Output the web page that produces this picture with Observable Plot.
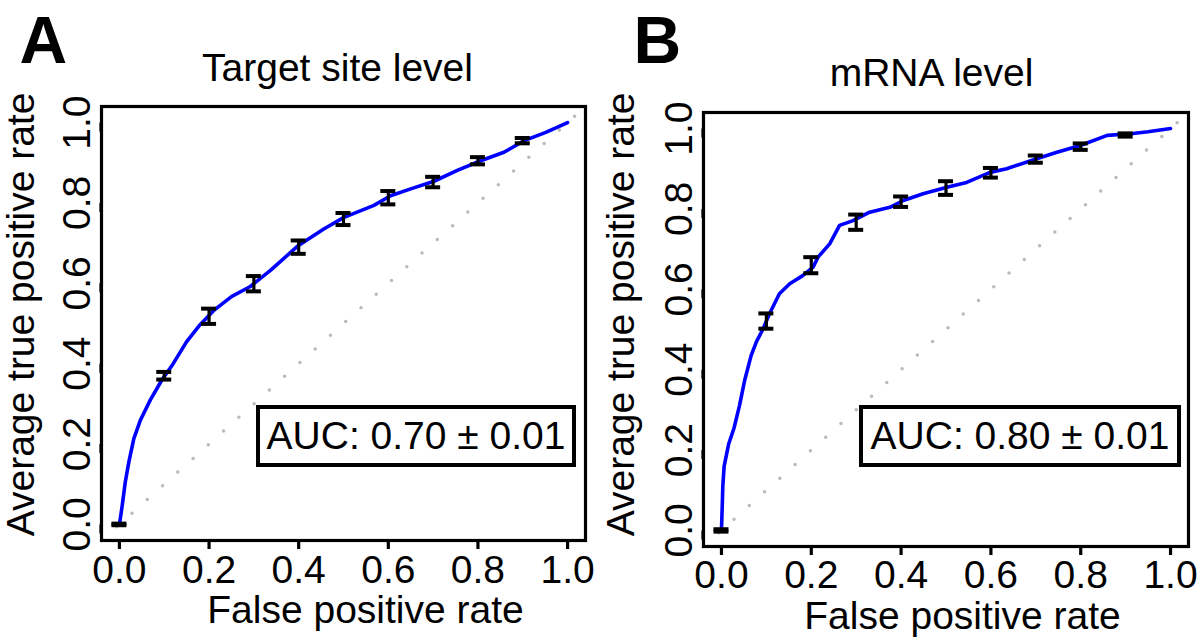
<!DOCTYPE html>
<html><head><meta charset="utf-8">
<script src="https://cdn.jsdelivr.net/npm/d3@7"></script>
<script src="https://cdn.jsdelivr.net/npm/@observablehq/plot@0.6"></script>
<style>
body{margin:0;background:#fff;}
#wrap{position:relative;width:1200px;height:642px;overflow:hidden;font-family:"Liberation Sans",Arial,Helvetica,sans-serif;background:#fff;}
.panel{position:absolute;top:0;width:600px;height:642px;}
.panel svg{overflow:visible;}
.auc{position:absolute;box-sizing:border-box;border:4px solid #000;background:#fff;font-size:39px;text-align:center;white-space:nowrap;color:#000;}
</style></head><body>
<div id="wrap">
  <div class="panel" id="pA" style="left:0px"></div>
  <div class="panel" id="pB" style="left:600px"></div>
</div>
<script>
// ---------- data ----------
const panelLetters = ["A", "B"];
const panelTitles = ["Target site level", "mRNA level"];
const xLabel = "False positive rate";
const yLabel = "Average true positive rate";
const aucLabels = ["AUC: 0.70 \u00b1 0.01", "AUC: 0.80 \u00b1 0.01"];
const tickValues = [0, 0.2, 0.4, 0.6, 0.8, 1.0];
const axisDomain = [-0.04, 1.04];

// Panel A: averaged ROC curve (target site level)
const curveA_fpr = [0, 0.006, 0.013, 0.021, 0.032, 0.047, 0.069, 0.095, 0.12, 0.15, 0.18, 0.21, 0.25, 0.292, 0.337, 0.397, 0.456, 0.501, 0.568, 0.605, 0.65, 0.702, 0.754, 0.806, 0.858, 0.903, 0.95, 1.0];
const curveA_tpr = [0, 0.045, 0.105, 0.155, 0.213, 0.26, 0.31, 0.36, 0.40, 0.455, 0.497, 0.532, 0.567, 0.592, 0.632, 0.692, 0.735, 0.764, 0.794, 0.818, 0.835, 0.854, 0.881, 0.905, 0.926, 0.955, 0.975, 1.0];

// Panel B: averaged ROC curve (mRNA level)
const curveB_fpr = [0, 0.002, 0.003, 0.006, 0.016, 0.028, 0.04, 0.052, 0.066, 0.078, 0.092, 0.107, 0.129, 0.152, 0.181, 0.204, 0.215, 0.241, 0.263, 0.293, 0.33, 0.375, 0.405, 0.449, 0.502, 0.546, 0.598, 0.635, 0.702, 0.747, 0.799, 0.859, 0.911, 0.95, 1.0];
const curveB_tpr = [0, 0.07, 0.11, 0.16, 0.215, 0.255, 0.31, 0.375, 0.435, 0.47, 0.50, 0.539, 0.589, 0.614, 0.634, 0.655, 0.68, 0.713, 0.759, 0.771, 0.792, 0.804, 0.821, 0.838, 0.854, 0.866, 0.891, 0.90, 0.925, 0.941, 0.958, 0.983, 0.987, 0.992, 1.0];

// Error bars (mean +/- sd) at fixed false positive rates
const errFpr = [0, 0.1, 0.2, 0.3, 0.4, 0.5, 0.6, 0.7, 0.8, 0.9];
const errA_mean = [0, 0.370, 0.518, 0.599, 0.690, 0.760, 0.813, 0.852, 0.905, 0.955];
const errA_sd   = [0.002, 0.0095, 0.019, 0.019, 0.0166, 0.015, 0.0166, 0.013, 0.009, 0.0066];
const errB_mean = [0, 0.521, 0.660, 0.767, 0.818, 0.852, 0.890, 0.924, 0.955, 0.984];
const errB_sd   = [0.003, 0.019, 0.020, 0.019, 0.013, 0.017, 0.012, 0.009, 0.008, 0.004];

// ---------- drawing ----------
const FONT = "Liberation Sans, Arial, Helvetica, sans-serif";
const FS = 39;

function makePanel(o) {
  const m = o.margins;
  const at = (px, py) => ({frameAnchor: "top-left", dx: px - m.left, dy: py - m.top});
  const err = errFpr.map((x, i) => ({x, lo: o.mean[i] - o.sd[i], hi: o.mean[i] + o.sd[i]}));
  return Plot.plot({
    width: 600, height: 642,
    marginTop: m.top, marginRight: m.right, marginBottom: m.bottom, marginLeft: m.left,
    x: {domain: axisDomain},
    y: {domain: axisDomain},
    style: {fontFamily: FONT, color: "#000", background: "transparent", overflow: "visible"},
    marks: [
      Plot.line(axisDomain, {x: d => d, y: d => d, stroke: "#bababa", strokeWidth: 3.5, strokeDasharray: "0 20.5", strokeLinecap: "round"}),
      Plot.line({length: o.fpr.length}, {x: o.fpr, y: o.tpr, stroke: "#0000ff", strokeWidth: 3.6, strokeLinejoin: "round", strokeLinecap: "round"}),
      Plot.ruleX(err, {x: "x", y1: "lo", y2: "hi", stroke: "#000", strokeWidth: 3.2}),
      Plot.ruleY(err, {y: "lo", x1: "x", x2: "x", insetLeft: -7.5, insetRight: -7.5, stroke: "#000", strokeWidth: 4}),
      Plot.ruleY(err, {y: "hi", x1: "x", x2: "x", insetLeft: -7.5, insetRight: -7.5, stroke: "#000", strokeWidth: 4}),
      Plot.frame({stroke: "#000", strokeWidth: 3.2}),
      Plot.axisX({ticks: tickValues, tickFormat: d3.format(".1f"), tickSize: 9, tickPadding: o.xPad, fontSize: FS, strokeWidth: 3.2, label: null}),
      Plot.axisY({ticks: tickValues, tickFormat: d3.format(".1f"), tickSize: 9, tickPadding: 3, fontSize: FS, strokeWidth: 3.2, label: null, rotate: -90, textAnchor: "middle", lineAnchor: "bottom"}),
      Plot.text([o.letter], {text: d => d, ...at(o.letterPos[0], o.letterPos[1]), textAnchor: "start", lineAnchor: "bottom", fontSize: 66, fontWeight: "bold"}),
      Plot.text([o.title], {text: d => d, ...at(o.titlePos[0], o.titlePos[1]), textAnchor: "middle", lineAnchor: "bottom", fontSize: FS}),
      Plot.text([xLabel], {text: d => d, ...at(o.xLabPos[0], o.xLabPos[1]), textAnchor: "middle", lineAnchor: "bottom", fontSize: FS}),
      Plot.text([yLabel], {text: d => d, ...at(o.yLabPos[0], o.yLabPos[1]), textAnchor: "middle", lineAnchor: "bottom", rotate: -90, fontSize: FS})
    ]
  });
}

const panels = [
  {id: "pA", letter: panelLetters[0], title: panelTitles[0], fpr: curveA_fpr, tpr: curveA_tpr, mean: errA_mean, sd: errA_sd,
   margins: {top: 106, right: 15, bottom: 102, left: 101}, xPad: 6,
   letterPos: [19, 62], titlePos: [337, 80], xLabPos: [365, 622], yLabPos: [33, 314],
   auc: aucLabels[0], aucBox: {left: 256, top: 405, width: 320, height: 62}},
  {id: "pB", letter: panelLetters[1], title: panelTitles[1], fpr: curveB_fpr, tpr: curveB_tpr, mean: errB_mean, sd: errB_sd,
   margins: {top: 112, right: 12, bottom: 96, left: 103}, xPad: 5,
   letterPos: [33, 62], titlePos: [331, 85], xLabPos: [362, 628], yLabPos: [33, 314],
   auc: aucLabels[1], aucBox: {left: 859, top: 405, width: 322, height: 62}}
];

const wrap = document.getElementById("wrap");
for (const p of panels) {
  document.getElementById(p.id).appendChild(makePanel(p));
  const box = document.createElement("div");
  box.className = "auc";
  const b = p.aucBox;
  box.style.left = b.left + "px";
  box.style.top = b.top + "px";
  box.style.width = b.width + "px";
  box.style.height = b.height + "px";
  box.style.lineHeight = (b.height - 8) + "px";
  box.textContent = p.auc;
  wrap.appendChild(box);
}
</script>
</body></html>
